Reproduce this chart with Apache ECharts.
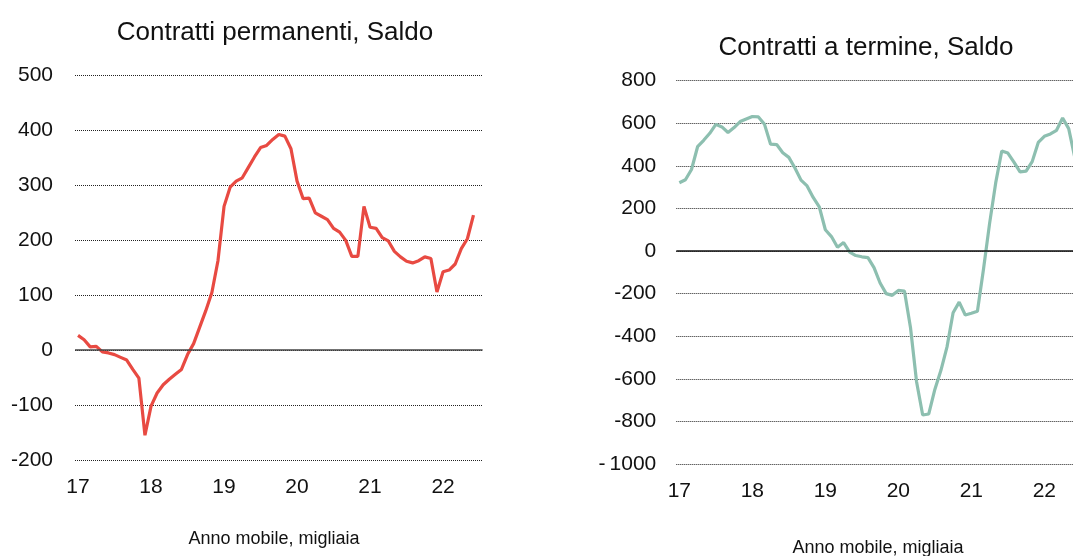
<!DOCTYPE html>
<html>
<head>
<meta charset="utf-8">
<script src="https://cdn.jsdelivr.net/npm/echarts@6/dist/echarts.min.js"></script>
<style>
html,body{margin:0;padding:0;background:#fff;overflow:hidden;width:1073px;height:556px;}
#chart{width:1100px;height:556px;}
</style>
</head>
<body>
<div id="chart"></div>
<script>
// Tick labels (years) and monthly categories
const years = ['17', '18', '19', '20', '21', '22'];
const monthNames = ['01','02','03','04','05','06','07','08','09','10','11','12'];
const categories = [];
years.forEach(y => monthNames.forEach(m => categories.push(y + '-' + m)));
const shownCategories = categories.slice(0, 67);

// Contratti permanenti, saldo (anno mobile, migliaia)
const permanenti = [27,19,6,7,-3,-5,-8,-13,-18,-35,-51,-155,-102,-78,-63,-53,-44,-35,-8,12,42,72,105,163,262,297,308,314,333,352,369,373,384,393,390,367,308,276,277,250,244,238,222,215,200,171,171,262,224,222,205,199,180,170,162,159,163,170,167,106,143,146,157,185,203,246];

// Contratti a termine, saldo (anno mobile, migliaia)
const termine = [321,335,383,490,520,553,595,583,557,580,608,620,632,630,595,502,500,462,440,390,333,306,252,208,100,68,18,40,-5,-21,-27,-31,-78,-150,-200,-208,-185,-188,-360,-615,-770,-765,-650,-560,-450,-290,-240,-300,-292,-283,-84,130,320,470,460,418,372,375,420,510,539,550,567,625,575,440];

const titles = ['Contratti permanenti, Saldo', 'Contratti a termine, Saldo'];
const axisName = 'Anno mobile, migliaia';

const FONT = "'Liberation Sans', Arial, sans-serif";
const chart = echarts.init(document.getElementById('chart'), null, {renderer: 'canvas'});

function xAxisCfg(gridIndex, margin) {
  return {
    type: 'category', gridIndex: gridIndex, data: shownCategories, boundaryGap: true,
    axisLine: {show: false}, axisTick: {show: false}, splitLine: {show: false},
    axisLabel: {
      interval: (i) => i % 12 === 0, margin: margin,
      formatter: (v) => v.split('-')[0],
      fontFamily: FONT, fontSize: 21, color: '#111'
    }
  };
}
function yAxisCfg(gridIndex, min, max, interval, margin) {
  return {
    type: 'value', gridIndex: gridIndex, min: min, max: max, interval: interval,
    axisLine: {show: false}, axisTick: {show: false},
    splitLine: {show: true, lineStyle: {type: [1, 1], color: '#222', width: 1}},
    axisLabel: {margin: margin, fontFamily: FONT, fontSize: 21, color: '#111',
      formatter: (v) => v === -1000 ? '-\u20091000' : String(v)}
  };
}
function zeroLine(color, width) {
  return {
    silent: true, symbol: ['none', 'none'], animation: false,
    label: {show: false},
    lineStyle: {type: 'solid', color: color, width: width},
    data: [{yAxis: 0}]
  };
}

chart.setOption({
  animation: false,
  backgroundColor: '#fff',
  title: [
    {text: titles[0], left: 270, top: 15, textAlign: 'center',
     textStyle: {fontFamily: FONT, fontSize: 26, fontWeight: 'normal', color: '#111'}},
    {text: titles[1], left: 861, top: 30, textAlign: 'center',
     textStyle: {fontFamily: FONT, fontSize: 26, fontWeight: 'normal', color: '#111'}},
    {text: axisName, left: 269, top: 525, textAlign: 'center',
     textStyle: {fontFamily: FONT, fontSize: 18, fontWeight: 'normal', color: '#111'}},
    {text: axisName, left: 873, top: 534, textAlign: 'center',
     textStyle: {fontFamily: FONT, fontSize: 18, fontWeight: 'normal', color: '#111'}}
  ],
  grid: [
    {left: 75, top: 75.7, width: 407.6, height: 384.3, containLabel: false},
    {left: 676.3, top: 80.7, width: 407.6, height: 383.3, containLabel: false}
  ],
  xAxis: [xAxisCfg(0, 17), xAxisCfg(1, 17)],
  yAxis: [yAxisCfg(0, -200, 500, 100, 22), yAxisCfg(1, -1000, 800, 200, 20)],
  series: [
    {type: 'line', xAxisIndex: 0, yAxisIndex: 0, data: permanenti, showSymbol: false,
     lineStyle: {color: '#E84A42', width: 3.2}, itemStyle: {color: '#E84A42'},
     markLine: zeroLine('#444', 1.6), z: 3},
    {type: 'line', xAxisIndex: 1, yAxisIndex: 1, data: termine, showSymbol: false,
     lineStyle: {color: '#8DBFB0', width: 3.2}, itemStyle: {color: '#8DBFB0'},
     markLine: zeroLine('#111', 1.5), z: 3}
  ]
});
</script>
</body>
</html>
